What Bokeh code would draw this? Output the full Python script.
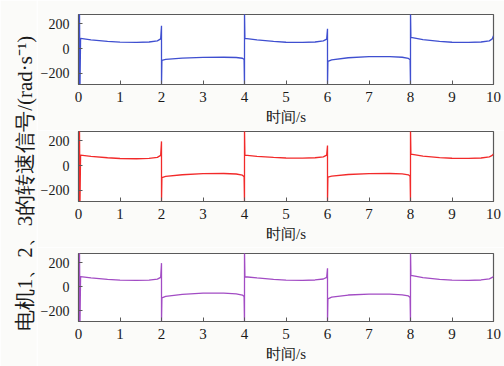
from bokeh.plotting import figure
from bokeh.layouts import row, column
from bokeh.models import Range1d, FixedTicker
from bokeh.embed import file_html
from bokeh.resources import INLINE

# ---- data ----
TIME = [0.0, 0.012, 0.024, 0.036,
        0.05, 0.3, 0.7, 1.0, 1.4, 1.7, 1.9, 1.98,
        2.0, 2.0,
        2.01, 2.1, 2.5, 3.0, 3.5, 3.8, 3.95, 3.99,
        4.0, 4.0,
        4.01, 4.3, 4.7, 5.0, 5.4, 5.7, 5.9, 5.98,
        6.0, 6.0,
        6.01, 6.1, 6.5, 7.0, 7.5, 7.8, 7.95, 7.99,
        8.0, 8.0,
        8.01, 8.3, 8.7, 9.0, 9.4, 9.7, 9.9, 9.97, 10.0]

MOTOR1 = [300, -300, 300, -300,
          82, 70, 58, 52, 50, 53, 62, 78,
          184, -300,
          -96, -88, -77, -71, -70, -72, -78, -88,
          -300, 300,
          82, 70, 58, 51, 50, 53, 62, 76,
          160, -300,
          -104, -92, -74, -65, -65, -70, -80, -90,
          -300, 300,
          90, 72, 58, 51, 50, 53, 62, 78, 104]

MOTOR2 = [300, -300, 300, -300,
          84, 74, 63, 57, 55, 58, 66, 82,
          195, -300,
          -98, -88, -74, -65, -64, -68, -78, -90,
          -300, 300,
          84, 75, 66, 61, 60, 63, 70, 84,
          162, -300,
          -93, -85, -72, -65, -64, -67, -75, -86,
          -300, 300,
          93, 76, 64, 59, 58, 61, 70, 82, 93]

MOTOR3 = [300, -300, 300, -300,
          82, 72, 60, 53, 51, 54, 62, 76,
          195, -300,
          -94, -82, -64, -55, -54, -60, -70, -82,
          -300, 300,
          82, 72, 60, 53, 52, 55, 63, 76,
          152, -300,
          -102, -88, -70, -62, -62, -68, -78, -90,
          -300, 300,
          93, 75, 60, 53, 52, 55, 64, 76, 85]

X_TICKS = [0, 1, 2, 3, 4, 5, 6, 7, 8, 9, 10]
Y_TICKS = [-200, 0, 200]
X_LABEL = "时间/s"
Y_LABEL = "电机1、2、3的转速信号/(rad·s⁻¹)"

FONT = "Liberation Serif"
BG = "#fbfbf9"
INK = "#1a1a1a"
FRAME = "#5a5a5a"


def make_panel(vals, color, height, top, bottom):
    p = figure(width=467, height=height, output_backend="svg", toolbar_location=None,
               x_range=Range1d(0, 10), y_range=Range1d(-290, 275),
               min_border_left=41, min_border_right=11,
               min_border_top=top, min_border_bottom=bottom)
    p.line(TIME, vals, line_color=color, line_width=1.3)
    p.xgrid.visible = False
    p.ygrid.visible = False
    p.background_fill_color = "white"
    p.border_fill_color = BG
    p.outline_line_color = FRAME
    p.outline_line_width = 1.2
    p.xaxis.ticker = FixedTicker(ticks=X_TICKS)
    p.yaxis.ticker = FixedTicker(ticks=Y_TICKS)
    p.xaxis.minor_tick_line_color = None
    p.yaxis.minor_tick_line_color = None
    for ax in (p.xaxis, p.yaxis):
        ax.major_tick_in = 4
        ax.major_tick_out = 0
        ax.major_tick_line_color = FRAME
        ax.axis_line_color = FRAME
        ax.major_label_text_font = FONT
        ax.major_label_text_font_size = "15px"
        ax.major_label_text_color = INK
    p.yaxis.major_label_text_font_size = "14px"
    p.xaxis.major_label_standoff = 7
    p.yaxis.major_label_standoff = 9
    p.xaxis.axis_label = X_LABEL
    p.xaxis.axis_label_text_font = FONT
    p.xaxis.axis_label_text_font_size = "15px"
    p.xaxis.axis_label_text_font_style = "normal"
    p.xaxis.axis_label_text_color = INK
    p.xaxis.axis_label_standoff = 4
    return p


p1 = make_panel(MOTOR1, "#3f4fd0", 130, 14, 46)
p2 = make_panel(MOTOR2, "#f22a2a", 117, 1, 46)
p3 = make_panel(MOTOR3, "#a24cc4", 119, 6, 45)

lab = figure(width=37, height=366, output_backend="svg", toolbar_location=None,
             x_axis_type=None, min_border=0, min_border_left=36,
             x_range=Range1d(0, 1), y_range=Range1d(0, 1))
lab.outline_line_color = None
lab.xgrid.visible = False
lab.ygrid.visible = False
lab.background_fill_color = BG
lab.border_fill_color = BG
ya = lab.yaxis[0]
ya.ticker = FixedTicker(ticks=[])
ya.major_tick_line_color = None
ya.minor_tick_line_color = None
ya.axis_line_color = None
ya.major_label_text_font_size = "0px"
ya.axis_label = Y_LABEL
ya.axis_label_text_font = FONT
ya.axis_label_text_font_size = "21px"
ya.axis_label_text_font_style = "normal"
ya.axis_label_text_color = INK
ya.axis_label_standoff = 0

layout = row(lab, column(p1, p2, p3))
open("out.html", "w").write(file_html(layout, INLINE))
